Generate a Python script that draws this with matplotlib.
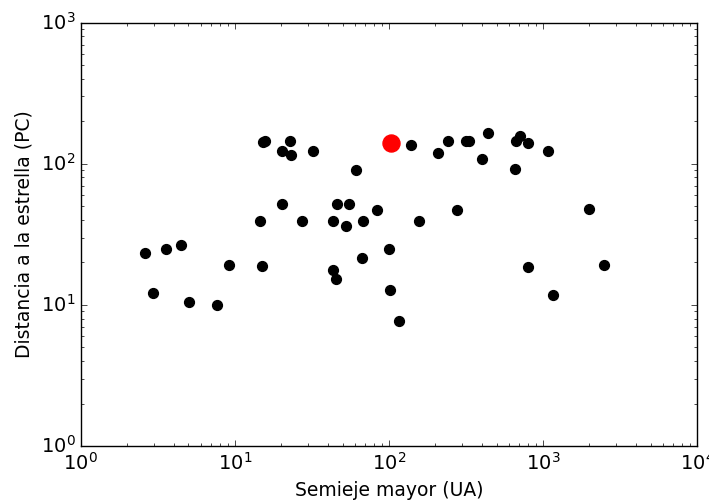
import matplotlib
matplotlib.use("Agg")
import matplotlib.pyplot as plt

# semieje mayor (UA) y distancia (pc) de los objetos
semieje = [2.6, 2.93, 3.55, 4.5, 5.03, 7.64, 9.14, 14.6, 15.0, 15.2, 15.6,
           20.1, 20.1, 22.9, 23.1, 27.1, 32.0, 43.1, 46.2, 52.4, 55.0, 61.0,
           68.1, 84.0, 100, 67.1, 139.6, 156, 209, 243, 275, 315, 332, 402,
           439, 655, 668, 713, 804, 1083, 2000, 102, 116, 796, 1167, 2500,
           43.4, 45.1]
distancia = [23.3, 12.1, 25.0, 26.6, 10.5, 10.0, 19.2, 39.5, 18.9, 143, 145,
             124, 51.9, 145, 115, 39.5, 124, 39.5, 51.9, 36.1, 51.9, 90.4,
             39.5, 47.3, 25.0, 21.6, 135, 39.5, 120, 145, 47.3, 145, 145, 108,
             165, 91.9, 145, 157, 140, 124, 47.8, 12.7, 7.69, 18.5, 11.7, 19.2,
             17.6, 15.4]

# objeto destacado
destacado_x = [103]
destacado_y = [140]

plt.style.use('classic')
plt.rcParams['figure.facecolor'] = 'white'
plt.rcParams['savefig.facecolor'] = 'white'
plt.rcParams['xtick.labelsize'] = 14
plt.rcParams['ytick.labelsize'] = 14

fig = plt.figure(figsize=(7.09, 5.03), dpi=100)
ax = fig.add_axes([0.114, 0.113, 0.869, 0.842])

ax.scatter(semieje, distancia, s=50, c='black', edgecolors='black', zorder=3)
ax.scatter(destacado_x, destacado_y, s=150, c='red', edgecolors='red', zorder=4)

ax.set_xscale('log')
ax.set_yscale('log')
ax.set_xlim(1, 1e4)
ax.set_ylim(1, 1e3)
ax.set_xlabel('Semieje mayor (UA)', fontsize=13.5)
ax.set_ylabel('Distancia a la estrella (PC)', fontsize=13.5)

fig.savefig('out.png', dpi=100)
